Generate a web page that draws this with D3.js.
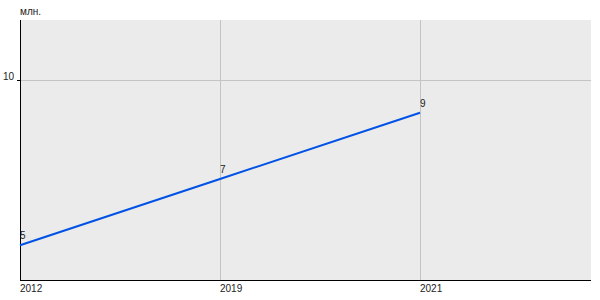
<!DOCTYPE html>
<html>
<head>
<meta charset="utf-8">
<script src="https://cdn.jsdelivr.net/npm/d3@7"></script>
<style>
  body { margin: 0; background: #fff; }
  svg { display: block; }
</style>
</head>
<body>
<svg></svg>
<script>
const years = ['2012', '2019', '2021'];
const values = [5, 7, 9];
const yTicks = [10];
const unitLabel = 'млн.';

const width = 600, height = 300;
const margin = { top: 20, right: 9, bottom: 20, left: 20 };
const innerWidth = width - margin.left - margin.right;
const innerHeight = height - margin.top - margin.bottom;

const svg = d3.select('svg').attr('width', width).attr('height', height)
    .style('font-family', '"Liberation Sans", Arial, sans-serif');

const g = svg.append('g')
    .attr('transform', `translate(${margin.left},${margin.top})`);

// categories sit every 200px, with a fourth empty slot off to the right
const x = d3.scalePoint()
    .domain(years.concat(['']))
    .range([0, 600]);

const y = d3.scaleLinear()
    .domain([3.95, 11.8])
    .range([innerHeight, 0]);

// background
g.append('rect')
    .attr('width', innerWidth)
    .attr('height', innerHeight)
    .attr('fill', '#ebebeb');

// grid lines
g.selectAll('.hgrid')
    .data(yTicks)
    .enter()
    .append('line')
    .attr('x1', 0).attr('x2', innerWidth)
    .attr('y1', d => Math.round(y(d)) + 0.5)
    .attr('y2', d => Math.round(y(d)) + 0.5)
    .attr('stroke', '#c4c4c4');

g.selectAll('.vgrid')
    .data(years.slice(1))
    .enter()
    .append('line')
    .attr('x1', d => x(d) + 0.5).attr('x2', d => x(d) + 0.5)
    .attr('y1', 0).attr('y2', innerHeight)
    .attr('stroke', '#c4c4c4');

// axes
g.append('line')
    .attr('x1', 0.5).attr('x2', 0.5)
    .attr('y1', 0).attr('y2', innerHeight)
    .attr('stroke', '#000');
g.append('line')
    .attr('x1', 0).attr('x2', innerWidth)
    .attr('y1', innerHeight + 0.5).attr('y2', innerHeight + 0.5)
    .attr('stroke', '#000');

// y ticks
g.selectAll('.ytick')
    .data(yTicks)
    .enter()
    .append('line')
    .attr('x1', -3).attr('x2', 0)
    .attr('y1', d => Math.round(y(d)) + 0.5)
    .attr('y2', d => Math.round(y(d)) + 0.5)
    .attr('stroke', '#000');

g.selectAll('.ylabel')
    .data(yTicks)
    .enter()
    .append('text')
    .attr('x', -6)
    .attr('y', d => y(d))
    .attr('text-anchor', 'end')
    .attr('font-size', '10px')
    .attr('fill', '#222')
    .text(d => d);

svg.append('text')
    .attr('x', 20)
    .attr('y', 15)
    .attr('font-size', '10px')
    .attr('fill', '#222')
    .text(unitLabel);

// x labels
g.selectAll('.xlabel')
    .data(years)
    .enter()
    .append('text')
    .attr('x', d => x(d))
    .attr('y', innerHeight + 12)
    .attr('font-size', '10px')
    .attr('fill', '#222')
    .text(d => d);

// line
const line = d3.line()
    .x((d, i) => x(years[i]))
    .y(d => y(d));

g.append('path')
    .datum(values)
    .attr('d', line)
    .attr('fill', 'none')
    .attr('stroke', '#0052e6')
    .attr('stroke-width', 2);

// value labels
g.selectAll('.vlabel')
    .data(values)
    .enter()
    .append('text')
    .attr('x', (d, i) => x(years[i]))
    .attr('y', d => y(d) - 6)
    .attr('font-size', '10px')
    .attr('fill', '#222')
    .text(d => d);
</script>
</body>
</html>
